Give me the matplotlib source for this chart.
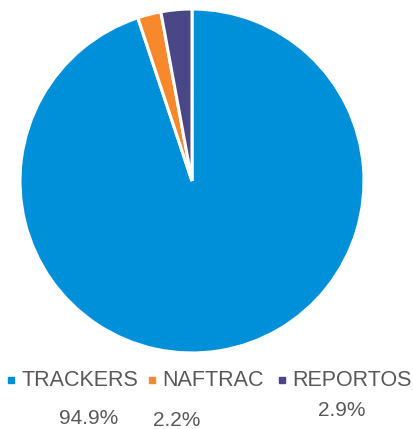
import matplotlib.pyplot as plt
from matplotlib.lines import Line2D

categories = ['TRACKERS', 'NAFTRAC', 'REPORTOS']
shares = [94.9, 2.2, 2.9]
colors = ['#0090D9', '#F7882B', '#4A4786']

plt.rcParams['font.family'] = ['Liberation Sans', 'DejaVu Sans']

W, H = 414, 429
fig = plt.figure(figsize=(W / 100, H / 100), dpi=100)

# pie axes: center ~ (192,181) px, radius ~172 px
ax = fig.add_axes([20 / W, (H - 353) / H, 344 / W, 344 / H])
ax.pie(shares, colors=colors, startangle=90, counterclock=False, radius=1,
       wedgeprops=dict(edgecolor='white', linewidth=2.2))
ax.set_xlim(-1, 1)
ax.set_ylim(-1, 1)
ax.set_aspect('equal')
ax.axis('off')

# legend row, laid out by hand (marker x, text x in px)
leg_x = [(11, 21), (152, 162), (282, 292)]
leg_y = 380
for name, c, (mx, tx) in zip(categories, colors, leg_x):
    fig.add_artist(Line2D([mx / W], [1 - leg_y / H], marker='s', linestyle='none',
                          markersize=5, markerfacecolor=c, markeredgecolor=c,
                          transform=fig.transFigure))
    fig.text(tx / W, 1 - leg_y / H, name, ha='left', va='center',
             fontsize=15.5, color='#595959')

# data labels placed under the legend
label_pos = [(89, 419), (177, 421), (342, 410)]
for v, (x, y) in zip(shares, label_pos):
    fig.text(x / W, 1 - y / H, '{:.1f}%'.format(v), ha='center', va='center',
             fontsize=15, color='#595959')

fig.savefig('out.png', dpi=100)
